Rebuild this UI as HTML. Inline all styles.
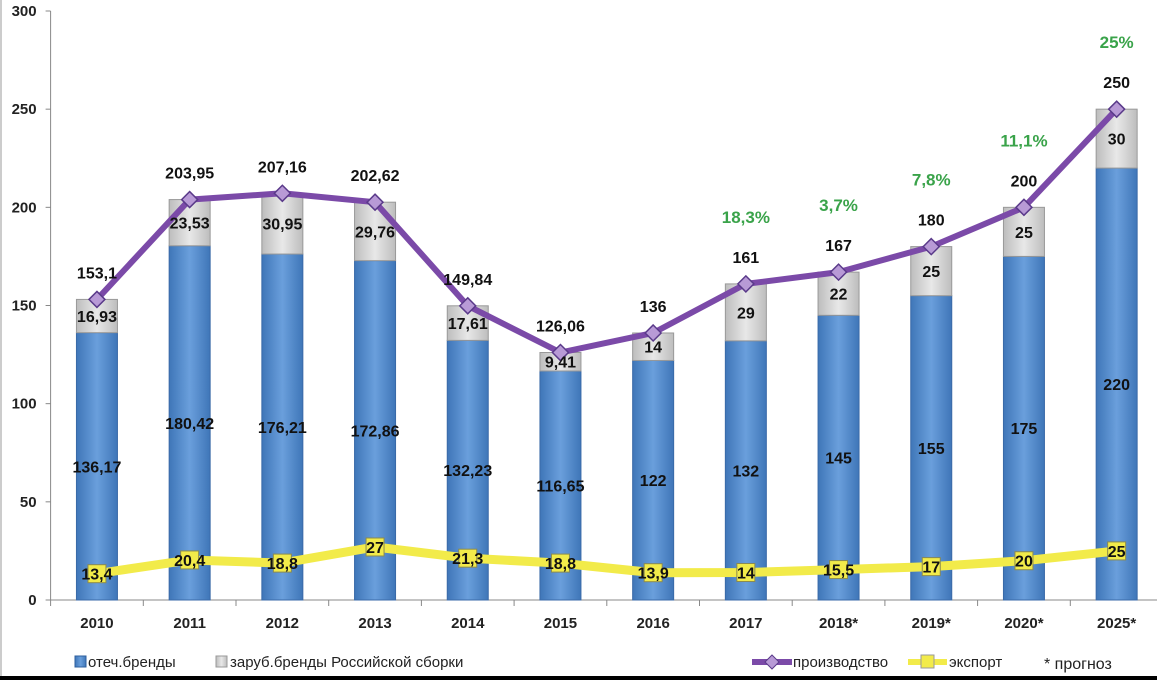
<!DOCTYPE html>
<html><head><meta charset="utf-8"><style>
html,body{margin:0;padding:0;background:#fff;width:1157px;height:680px;overflow:hidden}
svg{display:block;font-family:"Liberation Sans",sans-serif}
</style></head><body>
<svg id="chart" width="1157" height="680">
<defs>
<linearGradient id="gb" x1="0" x2="1"><stop offset="0" stop-color="#3f76b8"/><stop offset="0.5" stop-color="#6a9fdc"/><stop offset="1" stop-color="#3f76b8"/></linearGradient>
<linearGradient id="gg" x1="0" x2="1"><stop offset="0" stop-color="#bdbdbd"/><stop offset="0.5" stop-color="#e8e8e8"/><stop offset="1" stop-color="#bdbdbd"/></linearGradient>
</defs>
<rect x="0" y="0" width="1157" height="680" fill="#fff"/>
<line x1="1" y1="0" x2="1" y2="676" stroke="#999" stroke-width="1"/>
<g id="axes"></g><g id="bars"></g><g id="lines"></g><g id="labels"></g>
<g id="legend" font-size="15" fill="#222">
<rect x="75" y="656" width="11" height="11" fill="url(#gb)" stroke="#2d5f9e"/>
<text x="88" y="667">отеч.бренды</text>
<rect x="216" y="656" width="11" height="11" fill="url(#gg)" stroke="#999"/>
<text x="230" y="667">заруб.бренды Российской сборки</text>
<line x1="752" y1="662" x2="792" y2="662" stroke="#7b4aa8" stroke-width="6"/>
<polygon points="772,655 779,662 772,669 765,662" fill="#b89ad6" stroke="#5a3a8a"/>
<text x="793" y="667">производство</text>
<line x1="908" y1="662" x2="947" y2="662" stroke="#f2eb4a" stroke-width="6"/>
<rect x="921" y="655" width="13" height="13" fill="#f2eb4a" stroke="#999"/>
<text x="949" y="667">экспорт</text>
<text x="1044" y="669" font-size="16">* прогноз</text>
</g>
<rect x="0" y="676" width="1157" height="4" fill="#000"/>
</svg>
<script>
const categories=["2010","2011","2012","2013","2014","2015","2016","2017","2018*","2019*","2020*","2025*"];
const domestic=[136.17,180.42,176.21,172.86,132.23,116.65,122,132,145,155,175,220];
const domesticLabels=["136,17","180,42","176,21","172,86","132,23","116,65","122","132","145","155","175","220"];
const foreign=[16.93,23.53,30.95,29.76,17.61,9.41,14,29,22,25,25,30];
const foreignLabels=["16,93","23,53","30,95","29,76","17,61","9,41","14","29","22","25","25","30"];
const production=[153.1,203.95,207.16,202.62,149.84,126.06,136,161,167,180,200,250];
const productionLabels=["153,1","203,95","207,16","202,62","149,84","126,06","136","161","167","180","200","250"];
const exportVals=[13.4,20.4,18.8,27,21.3,18.8,13.9,14,15.5,17,20,25];
const exportLabels=["13,4","20,4","18,8","27","21,3","18,8","13,9","14","15,5","17","20","25"];
const growth=["","","","","","","","18,3%","3,7%","7,8%","11,1%","25%"];
const yTicks=[0,50,100,150,200,250,300];
const NS="http://www.w3.org/2000/svg";
const x0=50.6,step=92.7,yBase=600,yScale=589/300,bw=41;
const X=i=>x0+step*(i+0.5), Y=v=>yBase-v*yScale;
function mk(tag,attrs,parent,txt){const e=document.createElementNS(NS,tag);for(const k in attrs)e.setAttribute(k,attrs[k]);if(txt!==undefined)e.textContent=txt;document.getElementById(parent).appendChild(e);return e;}
let e=mk('line',{x1:x0,y1:Y(300),x2:x0,y2:yBase,stroke:'#888'},'axes');


e=mk('line',{x1:x0,y1:yBase,x2:x0+step*12,y2:yBase,stroke:'#888'},'axes');


yTicks.forEach(t=>{
  mk('line',{x1:x0-5,y1:Y(t),x2:x0,y2:Y(t),stroke:'#888'},'axes');
  e=mk('text',{x:x0-14,y:Y(t)+5,'text-anchor':'end','font-size':'15','font-weight':'bold',fill:'#222'},'axes',String(t));
  
  
});
for(let i=0;i<=12;i++) mk('line',{x1:x0+step*i,y1:yBase,x2:x0+step*i,y2:yBase+6,stroke:'#888'},'axes');
categories.forEach((c,i)=>{
  e=mk('text',{x:X(i),y:628,'text-anchor':'middle','font-size':'15','font-weight':'bold',fill:'#222'},'axes',c);
  
  
});
categories.forEach((c,i)=>{
  e=mk('rect',{x:X(i)-bw/2,y:Y(domestic[i]),width:bw,height:domestic[i]*yScale,fill:'url(#gb)',stroke:'#3a6aa8'},'bars');
  
  
  e=mk('rect',{x:X(i)-bw/2,y:Y(domestic[i]+foreign[i]),width:bw,height:foreign[i]*yScale,fill:'url(#gg)',stroke:'#999'},'bars');
  
  
});
const pp=production.map((v,i)=>X(i)+','+Y(v)).join(' ');
e=mk('polyline',{points:pp,fill:'none',stroke:'#7b4aa8','stroke-width':'6','stroke-linejoin':'round'},'lines');


const ep=exportVals.map((v,i)=>X(i)+','+Y(v)).join(' ');
e=mk('polyline',{points:ep,fill:'none',stroke:'#f2eb4a','stroke-width':'9','stroke-linejoin':'round'},'lines');


production.forEach((v,i)=>{
  const x=X(i),y=Y(v);
  e=mk('polygon',{points:`${x},${y-8} ${x+8},${y} ${x},${y+8} ${x-8},${y}`,fill:'#b89ad6',stroke:'#5a3a8a','stroke-width':'1.5'},'lines');
  
  
});
exportVals.forEach((v,i)=>{
  e=mk('rect',{x:X(i)-9,y:Y(v)-9,width:18,height:18,fill:'#f2eb4a',stroke:'#8a8a50'},'lines');
  
  
});
const L=(x,y,t,fill,fs)=>mk('text',{x:x,y:y,'text-anchor':'middle','font-size':fs||'16','font-weight':'bold',fill:fill||'#111'},'labels',t);
categories.forEach((c,i)=>{
  e=L(X(i),Y(domestic[i]/2)+6,domesticLabels[i]);
  
  
  e=L(X(i),Y(domestic[i]+foreign[i]/2)+6,foreignLabels[i]);
  
  
  e=L(X(i),Y(production[i])-21,productionLabels[i]);
  
  
  e=L(X(i),Y(exportVals[i])+6,exportLabels[i]);
  
  
  if(growth[i]){
    e=L(X(i),Y(production[i])-61,growth[i],'#3aa34a','17');
    
    
  }
});
</script>
</body></html>
